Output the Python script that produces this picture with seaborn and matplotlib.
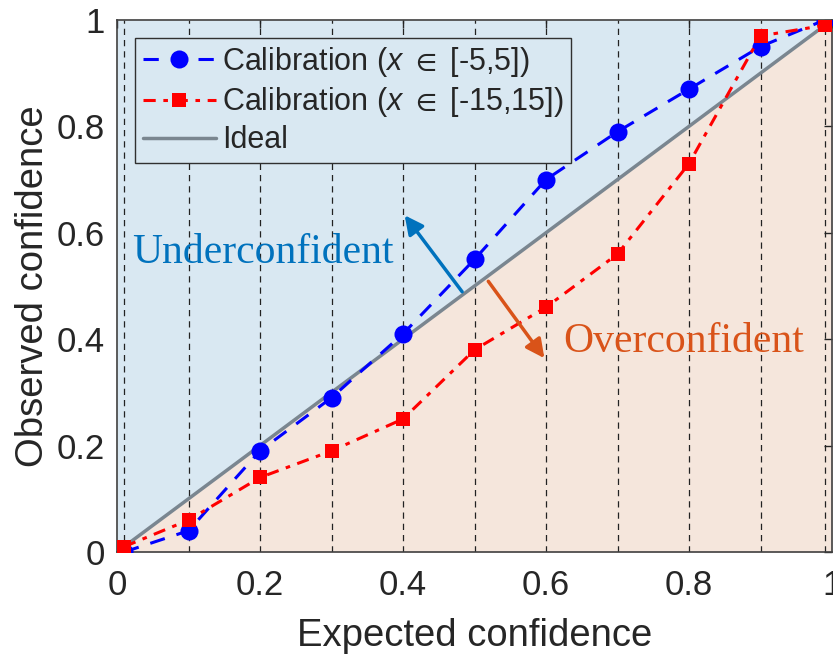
import numpy as np
import pandas as pd
import matplotlib
matplotlib.use("Agg")
import matplotlib.pyplot as plt
import seaborn as sns

sns.set_theme(style="white")
plt.rcParams['font.family'] = ['Liberation Sans', 'DejaVu Sans']
plt.rcParams['mathtext.fontset'] = 'custom'
plt.rcParams['mathtext.it'] = 'Liberation Sans:italic'
plt.rcParams['mathtext.rm'] = 'Liberation Sans'
plt.rcParams['mathtext.fallback'] = 'stixsans'

expected = [0.01, 0.1, 0.2, 0.3, 0.4, 0.5, 0.6, 0.7, 0.8, 0.9, 0.99]
obs_small = [0.0, 0.04, 0.19, 0.29, 0.41, 0.55, 0.70, 0.79, 0.87, 0.95, 1.0]
obs_large = [0.01, 0.06, 0.14, 0.19, 0.25, 0.38, 0.46, 0.56, 0.73, 0.97, 0.99]
ticks = [0, 0.2, 0.4, 0.6, 0.8, 1]
tick_labels = ["0", "0.2", "0.4", "0.6", "0.8", "1"]

df = pd.DataFrame({"x": expected, "small": obs_small, "large": obs_large})

fig = plt.figure(figsize=(8.33, 6.59), dpi=100)
ax = fig.add_axes([0.1405, 0.1624, 0.8583, 0.8073])

blue_bg = "#D9E8F2"
peach_bg = "#F5E6DC"
ax.fill_between([0, 1], [0, 1], [1, 1], color=blue_bg, lw=0, zorder=0)
ax.fill_between([0, 1], [0, 0], [0, 1], color=peach_bg, lw=0, zorder=0)

for xv in expected:
    ax.axvline(xv, color="#222222", ls=(0, (5, 4)), lw=0.9, zorder=1)

sns.lineplot(data=df, x="x", y="x", ax=ax, color="#7A8690", lw=2.5,
             label="Ideal", zorder=2)
sns.lineplot(data=df, x="x", y="small", ax=ax, color="#0000FF", lw=2.2,
             marker="o", markersize=13, markeredgewidth=0, dashes=False,
             label=r"Calibration ($x\ \in\ $[-5,5])", zorder=3)
sns.lineplot(data=df, x="x", y="large", ax=ax, color="#FF0000", lw=2.2,
             marker="s", markersize=10, markeredgewidth=0,
             label=r"Calibration ($x\ \in\ $[-15,15])", zorder=4)
lines = ax.get_lines()
lines[-2].set_linestyle((0, (5, 4)))
lines[-1].set_linestyle((0, (4, 2.5, 1.5, 2.5)))

ax.annotate("", xy=(0.40, 0.637), xytext=(0.485, 0.485),
            arrowprops=dict(arrowstyle="-|>", color="#0072BD", lw=2.5,
                            mutation_scale=28), zorder=5)
ax.annotate("", xy=(0.60, 0.36), xytext=(0.517, 0.513),
            arrowprops=dict(arrowstyle="-|>", color="#D95319", lw=2.5,
                            mutation_scale=28), zorder=5)
ax.text(0.204, 0.562, "Underconfident", color="#0072BD", fontsize=30,
        family="Liberation Serif", ha="center", va="center", zorder=5)
ax.text(0.793, 0.395, "Overconfident", color="#D95319", fontsize=30,
        family="Liberation Serif", ha="center", va="center", zorder=5)

ax.set_xlim(0, 1)
ax.set_ylim(0, 1)
ax.set_xticks(ticks)
ax.set_xticklabels(tick_labels)
ax.set_yticks(ticks)
ax.set_yticklabels(tick_labels)
ax.tick_params(direction="in", length=6, width=1, top=True, right=True,
               labelsize=25, colors="#262626")
ax.tick_params(axis="x", pad=12)
ax.tick_params(axis="y", pad=9)
for sp in ax.spines.values():
    sp.set_color("#404040")
    sp.set_linewidth(1.2)
ax.set_xlabel("Expected confidence", fontsize=27.5, color="#262626", labelpad=12)
ax.set_ylabel("Observed confidence", fontsize=27.5, color="#262626", labelpad=4)

h, l = ax.get_legend_handles_labels()
order = [1, 2, 0]
leg = ax.legend([h[i] for i in order], [l[i] for i in order], loc="upper left",
                bbox_to_anchor=(0.025, 0.967), fontsize=22, frameon=True,
                fancybox=False, edgecolor="#303030", facecolor=blue_bg,
                framealpha=1, handlelength=2.4, handletextpad=0.2,
                borderpad=0.25, labelspacing=0.2, borderaxespad=0)
leg.get_frame().set_linewidth(1.0)
leg.set_zorder(10)

fig.savefig("out.png", dpi=100)
